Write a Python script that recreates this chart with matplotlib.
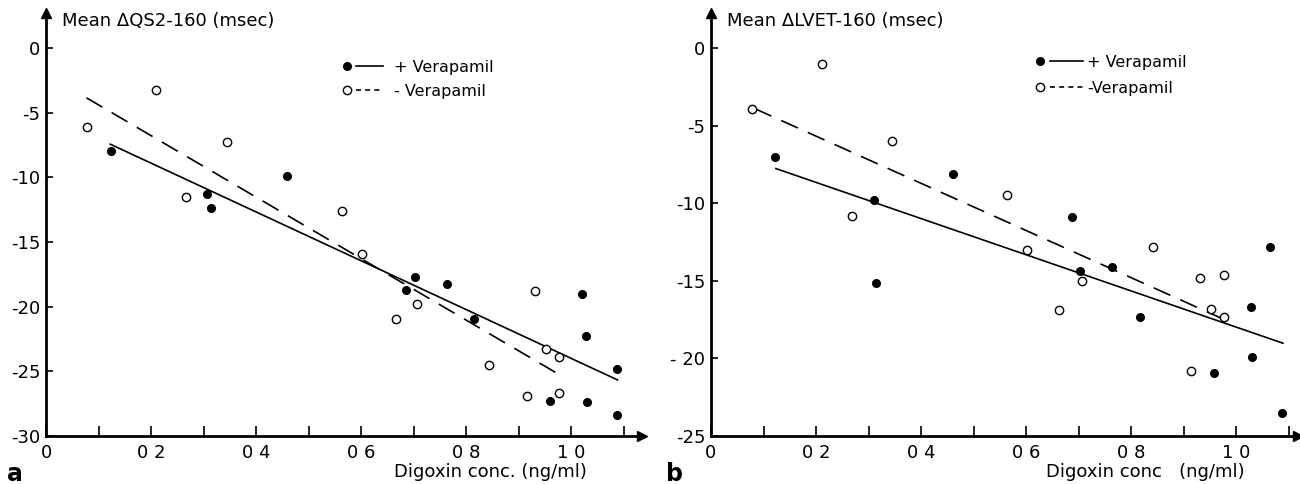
import matplotlib
matplotlib.use("Agg")
import matplotlib.pyplot as plt
from matplotlib.lines import Line2D
from matplotlib.legend_handler import HandlerTuple

plt.rcParams['font.family'] = ['DejaVu Sans']

# ---------------- data: panel a (QS2) ----------------
a_open_x = [0.078, 0.210, 0.345, 0.267, 0.564, 0.601, 0.706, 0.666, 0.932,
            0.843, 0.953, 0.977, 0.917, 0.977]
a_open_y = [-6.13, -3.26, -7.28, -11.54, -12.6, -15.92, -19.8, -20.95, -18.8,
            -24.5, -23.28, -23.9, -26.9, -26.67]
a_fill_x = [0.124, 0.459, 0.306, 0.315, 0.703, 0.686, 0.764, 0.815, 1.020,
            1.028, 1.088, 0.960, 1.031, 1.088]
a_fill_y = [-8.0, -9.92, -11.26, -12.36, -17.67, -18.74, -18.23, -20.92, -19.0,
            -22.23, -24.85, -27.33, -27.4, -28.36]
a_solid_x = [0.121, 1.090]
a_solid_y = [-7.41, -25.69]
a_dash_x = [0.077, 0.978]
a_dash_y = [-3.85, -25.26]

# ---------------- data: panel b (LVET) ----------------
b_open_x = [0.078, 0.212, 0.345, 0.268, 0.563, 0.602, 0.842, 0.707, 0.662,
            0.931, 0.978, 0.952, 0.978, 0.915]
b_open_y = [-3.96, -1.01, -6.0, -10.81, -9.44, -13.0, -12.8, -15.02, -16.91,
            -14.79, -14.64, -16.83, -17.34, -20.81]
b_fill_x = [0.122, 0.310, 0.461, 0.688, 1.064, 0.315, 0.703, 0.763, 0.818,
            1.029, 1.031, 0.958, 1.088]
b_fill_y = [-7.04, -9.81, -8.14, -10.92, -12.85, -15.17, -14.36, -14.11, -17.36,
            -16.70, -19.94, -20.96, -23.51]
b_solid_x = [0.122, 1.091]
b_solid_y = [-7.75, -19.04]
b_dash_x = [0.083, 0.978]
b_dash_y = [-3.9, -17.5]

x_ticks = [0, 0.2, 0.4, 0.6, 0.8, 1.0]
x_ticklabels = ["0", "0 2", "0 4", "0 6", "0 8", "1 0"]
x_minor = [0.1, 0.3, 0.5, 0.7, 0.9, 1.1]
a_yticks = [0, -5, -10, -15, -20, -25, -30]
a_yticklabels = ["0", "-5", "-10", "-15", "-20", "-25", "-30"]
b_yticks = [0, -5, -10, -15, -20, -25]
b_yticklabels = ["0", "-5", "-10", "-15", "- 20", "-25"]

W, H = 1300, 484
fig = plt.figure(figsize=(13, 4.84), dpi=100)

FS = 13
LFS = 11.5
DASH = (0, (11, 6.5))


def px(x, y):
    return x / W, 1 - y / H


def make_axes(left, right, top, bottom, xmax, ymin, ymax):
    ax = fig.add_axes([left / W, 1 - bottom / H, (right - left) / W, (bottom - top) / H])
    ax.set_xlim(0, xmax)
    ax.set_ylim(ymin, ymax)
    for s in ['top', 'right']:
        ax.spines[s].set_visible(False)
    for s in ['left', 'bottom']:
        ax.spines[s].set_linewidth(2.0)
    ax.plot([1], [0], marker='>', ms=7, color='black', transform=ax.transAxes, clip_on=False)
    ax.plot([0], [1], marker='^', ms=7, color='black', transform=ax.transAxes, clip_on=False)
    ax.set_xticks(x_ticks)
    ax.set_xticklabels(x_ticklabels, fontsize=FS)
    ax.set_xticks(x_minor, minor=True)
    ax.tick_params(axis='x', which='both', direction='in', length=7, width=1.2, pad=6)
    ax.tick_params(axis='y', which='both', direction='in', length=5, width=1.2, pad=4,
                   labelsize=FS)
    return ax


def draw(ax, ox, oy, fx, fy, sx, sy, dx, dy):
    ax.plot(sx, sy, color='black', lw=1.2, solid_capstyle='butt')
    ax.plot(dx, dy, color='black', lw=1.2, linestyle=DASH)
    ax.plot(ox, oy, linestyle='none', marker='o', ms=6.0, mfc='white', mec='black', mew=1.0, clip_on=False)
    ax.plot(fx, fy, linestyle='none', marker='o', ms=5.5, mfc='black', mec='black', clip_on=False)


def legend(ax, x, y, labels, hl, tp, hpad, ls):
    dot = Line2D([], [], linestyle='none', marker='o', ms=5.5, mfc='black', mec='black')
    sol = Line2D([], [], color='black', lw=1.2)
    odot = Line2D([], [], linestyle='none', marker='o', ms=6.0, mfc='white', mec='black', mew=1.0)
    das = Line2D([], [], color='black', lw=1.2, linestyle=(0, (3, 2.5)))
    lg = ax.legend([(dot, sol), (odot, das)], labels,
                   handler_map={tuple: HandlerTuple(ndivide=2, pad=hpad)},
                   loc='upper left', bbox_to_anchor=px(x, y), bbox_transform=fig.transFigure,
                   frameon=False, borderpad=0, borderaxespad=0, handlelength=hl,
                   handletextpad=tp, labelspacing=ls, fontsize=LFS)
    return lg


# ---------- panel a ----------
axA = make_axes(46, 642, 13, 436, 596 / 525, -30, -30 + 423 / 12.933)
axA.set_yticks(a_yticks)
axA.set_yticklabels(a_yticklabels)
draw(axA, a_open_x, a_open_y, a_fill_x, a_fill_y, a_solid_x, a_solid_y, a_dash_x, a_dash_y)
legend(axA, 333.5, 60, ["+ Verapamil", "- Verapamil"], 3.10, 0.69, -0.28, 0.55)
fig.text(*px(62, 21), "Mean \u0394QS2-160 (msec)", fontsize=FS, ha='left', va='center')
fig.text(*px(587, 472), "Digoxin conc. (ng/ml)", fontsize=FS, ha='right', va='center')
fig.text(*px(15, 474), "a", fontsize=17, fontweight='bold', ha='center', va='center')

# ---------- panel b ----------
axB = make_axes(711, 1298, 13, 436, 587 / 525, -25, -25 + 423 / 15.52)
axB.set_yticks(b_yticks)
axB.set_yticklabels(b_yticklabels)
draw(axB, b_open_x, b_open_y, b_fill_x, b_fill_y, b_solid_x, b_solid_y, b_dash_x, b_dash_y)
legend(axB, 1023.5, 55, ["+ Verapamil", "-Verapamil"], 3.73, 0.25, -0.41, 0.69)
fig.text(*px(727, 21), "Mean \u0394LVET-160 (msec)", fontsize=FS, ha='left', va='center')
fig.text(*px(1245, 472), "Digoxin conc   (ng/ml)", fontsize=FS, ha='right', va='center')
fig.text(*px(675, 474), "b", fontsize=17, fontweight='bold', ha='center', va='center')

fig.savefig("out.png", dpi=100)
